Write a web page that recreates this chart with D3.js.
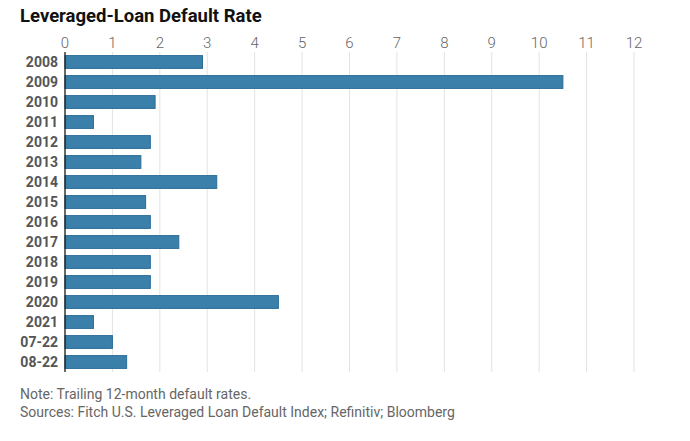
<!DOCTYPE html>
<html><head><meta charset="utf-8">
<script src="https://cdn.jsdelivr.net/npm/d3@7"></script>
<style>body{margin:0;background:#fff;} text{font-family:"Roboto","Open Sans",sans-serif;}</style>
</head><body><svg id="c" width="690" height="441"></svg>
<script>
const categories = ["2008","2009","2010","2011","2012","2013","2014","2015","2016","2017","2018","2019","2020","2021","07-22","08-22"];
const values = [2.9,10.5,1.9,0.6,1.8,1.6,3.2,1.7,1.8,2.4,1.8,1.8,4.5,0.6,1.0,1.3];
const ticks = [0,1,2,3,4,5,6,7,8,9,10,11,12];
const title = "Leveraged-Loan Default Rate";
const notes = ["Note: Trailing 12-month default rates.","Sources: Fitch U.S. Leveraged Loan Default Index; Refinitiv; Bloomberg"];

const svg = d3.select("#c");
const x = d3.scaleLinear().domain([0,12]).range([65,634]);
const y = d3.scaleBand().domain(categories).range([52,372]).paddingInner(0.36).paddingOuter(0.18);

svg.append("text").attr("x",20).attr("y",22).attr("font-size",18.5).attr("font-weight",700).attr("fill","#111").text(title);

const g = svg.append("g");
g.selectAll("line.grid").data(ticks).join("line").attr("class","grid")
  .attr("x1",d=>x(d)).attr("x2",d=>x(d)).attr("y1",52).attr("y2",372)
  .attr("stroke","#e3e3e3").attr("stroke-width",1);
g.selectAll("text.tick").data(ticks).join("text").attr("class","tick")
  .attr("x",d=>x(d)).attr("y",48).attr("text-anchor","middle")
  .attr("font-size",15).attr("fill","#666").attr("font-weight",300).text(d=>d);

g.selectAll("rect").data(values).join("rect")
  .attr("x",x(0)).attr("y",(d,i)=>y(categories[i]))
  .attr("width",d=>x(d)-x(0)).attr("height",y.bandwidth())
  .attr("fill","#3a80ab").attr("stroke","#2a6d97").attr("stroke-width",1);

g.selectAll("text.cat").data(categories).join("text").attr("class","cat")
  .attr("x",58).attr("y",d=>y(d)+y.bandwidth()/2).attr("dy","0.36em")
  .attr("text-anchor","end").attr("font-size",14).attr("font-weight",700).attr("fill","#555").text(d=>d);

g.append("line").attr("x1",x(0)).attr("x2",x(0)).attr("y1",52).attr("y2",372).attr("stroke","#111").attr("stroke-width",1.2);

svg.selectAll("text.note").data(notes).join("text").attr("class","note")
  .attr("x",20).attr("y",(d,i)=>399+i*18).attr("font-size",14).attr("fill","#666").text(d=>d);
</script></body></html>
